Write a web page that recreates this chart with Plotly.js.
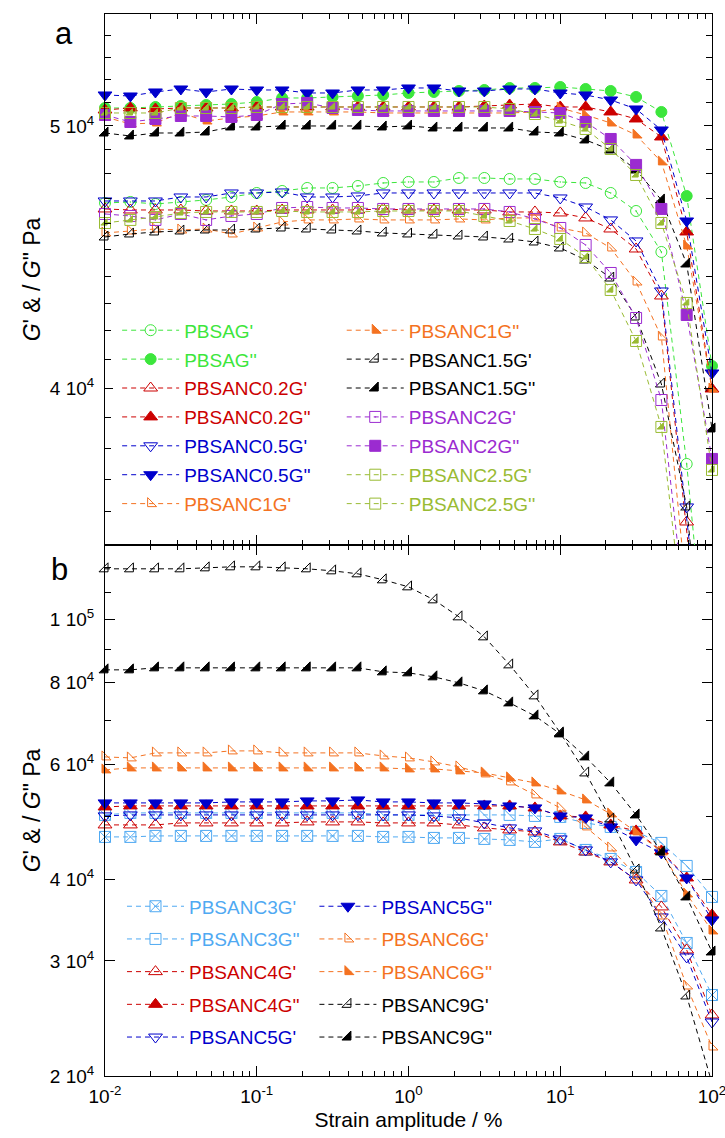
<!DOCTYPE html>
<html><head><meta charset="utf-8">
<script src="https://cdn.plot.ly/plotly-3.0.1.min.js"></script>
<style>body{margin:0;background:#fff}</style>
</head><body><div id="chart" style="width:725px;height:1138px"></div>
<script>
// Strain amplitude (%)
const strain = [0.01, 0.0147, 0.0215, 0.0316, 0.0464, 0.0681, 0.1, 0.147, 0.215, 0.316, 0.464, 0.681, 1, 1.47, 2.15, 3.16, 4.64, 6.81, 10, 14.7, 21.5, 31.6, 46.4, 68.1, 100];

// ---- Panel a (Pa) ----
const PBSAG_G1 = [46828, 46868, 46788, 46868, 46948, 47068, 47228, 47309, 47430, 47430, 47511, 47632, 47673, 47673, 47835, 47835, 47795, 47795, 47673, 47632, 47228, 46510, 44915, 37500, 30000];
const PBSAG_G2 = [50772, 50772, 50815, 50858, 50902, 50945, 51032, 51206, 51206, 51250, 51293, 51337, 51424, 51468, 51512, 51556, 51644, 51644, 51688, 51600, 51512, 51250, 50600, 47108, 40761];
const NC02_G1 = [46590, 46550, 46550, 46550, 46510, 46510, 46510, 46550, 46550, 46550, 46550, 46590, 46550, 46550, 46550, 46550, 46471, 46471, 46432, 46235, 45803, 45030, 43264, 35693, 29000];
const NC02_G2 = [50686, 50772, 50729, 50772, 50772, 50772, 50815, 50815, 50815, 50815, 50815, 50815, 50815, 50815, 50815, 50858, 50902, 50945, 50815, 50815, 50600, 50299, 49534, 45686, 39971];
const NC05_G1 = [46908, 46908, 46908, 47068, 47068, 47228, 47228, 47269, 47068, 47068, 47108, 47228, 47228, 47228, 47228, 47228, 47228, 47228, 47028, 46669, 46157, 45338, 43448, 36152, 29500];
const NC05_G2 = [51337, 51293, 51468, 51600, 51468, 51600, 51556, 51556, 51424, 51424, 51556, 51556, 51644, 51644, 51512, 51512, 51600, 51600, 51424, 51337, 51119, 50729, 49830, 46116, 40519];
const NC1_G1 = [45648, 45725, 45803, 45764, 45803, 45609, 45842, 46077, 46157, 46157, 46196, 46157, 46157, 46157, 46196, 46157, 46235, 46235, 45842, 45648, 45068, 43782, 41780, 34000, 27000];
const NC1_G2 = [50385, 50085, 50128, 50556, 50213, 50342, 50427, 50600, 50600, 50600, 50600, 50556, 50556, 50556, 50556, 50556, 50556, 50600, 50772, 50470, 50128, 49618, 48494, 45145, 39971];
const NC15_G1 = [45492, 45609, 45686, 45725, 45764, 45764, 45803, 45842, 45803, 45764, 45725, 45648, 45609, 45570, 45531, 45492, 45415, 45299, 45068, 44610, 43931, 42497, 40141, 36152, 29000];
const NC15_G2 = [49702, 49576, 49702, 49702, 49745, 49957, 49957, 50000, 50000, 50000, 50000, 49957, 50000, 49915, 49915, 49915, 49915, 49745, 49702, 49408, 48990, 48162, 46948, 44458, 38634];
const NC2_G1 = [46392, 46313, 46157, 46392, 46157, 46313, 46392, 46629, 46669, 46629, 46629, 46590, 46590, 46590, 46590, 46590, 46471, 46196, 45842, 45183, 44119, 42461, 39598, 32500, 27000];
const NC2_G2 = [50470, 50170, 50299, 50427, 50427, 50385, 50470, 50945, 50989, 50772, 50686, 50643, 50643, 50643, 50643, 50643, 50643, 50600, 50556, 50170, 49450, 48370, 46590, 42570, 37660];
const NC25_G1 = [46037, 46157, 46274, 46432, 46471, 46471, 46471, 46510, 46471, 46471, 46471, 46510, 46510, 46510, 46510, 46313, 46116, 45803, 45415, 44724, 43486, 41638, 38700, 32000, 26000];
const NC25_G2 = [50556, 50556, 50556, 50772, 50772, 50772, 50815, 50815, 50815, 50815, 50815, 50815, 50815, 50815, 50815, 50815, 50729, 50513, 50213, 49872, 49032, 47958, 46037, 43007, 37309];

// ---- Panel b (Pa) ----
const NC3_G1 = [46456, 46456, 46620, 46620, 46620, 46620, 46620, 46620, 46620, 46620, 46620, 46456, 46456, 46292, 46292, 46130, 45966, 45644, 46130, 44374, 42988, 41062, 37730, 31968, 26612];
const NC3_G2 = [50204, 50558, 50558, 50558, 50558, 50558, 50558, 50558, 50558, 50558, 50558, 50204, 50204, 50204, 50204, 50204, 50204, 50026, 49850, 48806, 48124, 47282, 45484, 41940, 37598];
const NC4_G1 = [48464, 48464, 48464, 48806, 48806, 48806, 48806, 48806, 48980, 48980, 48980, 48806, 48806, 48806, 48464, 47954, 47618, 47282, 45644, 44062, 42536, 39920, 36296, 31188, 24800];
const NC4_G2 = [51640, 51822, 51822, 51822, 51822, 51822, 51822, 51822, 51822, 51822, 51822, 51822, 51822, 51822, 51822, 51822, 51822, 51458, 50026, 49850, 48464, 47450, 44218, 40202, 35286];
const NC5_G1 = [50026, 50204, 50204, 50204, 50204, 50204, 50204, 50204, 50204, 50204, 50204, 50204, 50204, 50026, 49674, 48806, 47954, 47450, 46130, 44374, 42536, 39920, 35040, 30428, 24194];
const NC5_G2 = [52372, 52372, 52372, 52372, 52372, 52558, 52558, 52558, 52744, 52744, 52930, 52558, 52558, 52372, 52372, 52188, 51822, 51458, 50026, 49674, 48124, 45966, 43906, 40202, 34670];
const NC6_G1 = [61594, 61378, 62470, 62470, 62470, 62912, 62912, 62470, 62470, 62470, 62470, 61812, 61378, 60518, 59460, 58010, 56396, 53870, 51458, 48124, 44690, 40486, 35162, 27470, 22154];
const NC6_G2 = [58834, 59250, 59250, 59250, 59250, 59250, 59250, 59250, 59250, 59250, 59250, 59250, 59042, 59042, 58626, 58214, 57198, 56200, 54636, 52930, 50380, 47282, 44062, 37996, 33350];
const NC9_G1 = [119528, 119528, 119528, 119528, 119950, 120374, 120374, 119950, 119528, 118688, 117440, 114982, 112178, 107152, 100920, 94044, 85206, 76378, 67036, 58214, 49500, 41352, 33704, 26518, 19500];
const NC9_G2 = [83716, 83716, 84308, 84308, 84308, 84308, 84308, 84308, 84308, 84308, 84308, 83128, 82836, 81676, 79960, 77736, 74514, 71176, 66800, 61594, 56200, 50204, 44062, 37598, 30970];

// Tick labels
const xTickVals = [0.01, 0.1, 1, 10, 100];
const xTickText = ['10<sup>-2</sup>', '10<sup>-1</sup>', '10<sup>0</sup>', '10<sup>1</sup>', '10<sup>2</sup>'];
const yaTickVals = [40000, 50000];
const yaTickText = ['4 10<sup>4</sup>', '5 10<sup>4</sup>'];
const ybTickVals = [20000, 30000, 40000, 60000, 80000, 100000];
const ybTickText = ['2 10<sup>4</sup>', '3 10<sup>4</sup>', '4 10<sup>4</sup>', '6 10<sup>4</sup>', '8 10<sup>4</sup>', '1 10<sup>5</sup>'];

const xMinor = [];
[0.01, 0.1, 1, 10].forEach(d => { for (let m = 2; m <= 9; m++) xMinor.push(+(d * m).toPrecision(3)); });
const yaMinor = [];
for (let v = 35000; v <= 55000; v += 1000) if (v !== 40000 && v !== 50000) yaMinor.push(v);
const ybMinor = [50000, 70000, 90000, 110000, 120000, 130000];

const GREEN = '#3CE63C', RED = '#CC0000', BLUE = '#0000CC', ORANGE = '#F47221',
      BLACK = '#000000', PURPLE = '#9B2BD0', OLIVE = '#99BB33', LBLUE = '#4FA9F2';
const DASH = '5px,4px';

function tr(name, y, color, symbol, size, panel, legend) {
  return {
    type: 'scatter', mode: 'lines+markers', x: strain, y: y,
    name: '<span style="color:' + color + '">' + name + '</span>',
    xaxis: panel === 'a' ? 'x2' : 'x', yaxis: panel === 'a' ? 'y2' : 'y',
    legend: legend, legendgroup: name,
    line: {color: color, width: 1, dash: DASH},
    marker: {symbol: symbol, size: size, color: color, line: {color: color, width: 1}},
    cliponaxis: false, hoverinfo: 'skip'
  };
}
function ov(name, y, color, symbol, size, panel) {
  return {
    type: 'scatter', mode: 'markers', x: strain, y: y, showlegend: false, legendgroup: name,
    xaxis: panel === 'a' ? 'x2' : 'x', yaxis: panel === 'a' ? 'y2' : 'y',
    marker: {symbol: symbol, size: size, color: color, line: {color: color, width: 1}},
    cliponaxis: false, hoverinfo: 'skip'
  };
}

const data = [
  tr("PBSAG'", PBSAG_G1, GREEN, 'circle-open-dot', 11, 'a', 'legend'),
  tr("PBSAG''", PBSAG_G2, GREEN, 'circle', 11, 'a', 'legend'),
  tr("PBSANC0.2G'", NC02_G1, RED, 'triangle-up-open', 12, 'a', 'legend'),
  tr("PBSANC0.2G''", NC02_G2, RED, 'triangle-up', 12, 'a', 'legend'),
  tr("PBSANC0.5G'", NC05_G1, BLUE, 'triangle-down-open', 12, 'a', 'legend'),
  tr("PBSANC0.5G''", NC05_G2, BLUE, 'triangle-down', 12, 'a', 'legend'),
  tr("PBSANC1G'", NC1_G1, ORANGE, 'triangle-sw-open', 10, 'a', 'legend'),
  tr("PBSANC1G''", NC1_G2, ORANGE, 'triangle-sw', 10, 'a', 'legend2'),
  tr("PBSANC1.5G'", NC15_G1, BLACK, 'triangle-se-open', 10, 'a', 'legend2'),
  tr("PBSANC1.5G''", NC15_G2, BLACK, 'triangle-se', 10, 'a', 'legend2'),
  tr("PBSANC2G'", NC2_G1, PURPLE, 'square-open-dot', 11, 'a', 'legend2'),
  tr("PBSANC2G''", NC2_G2, PURPLE, 'square', 11, 'a', 'legend2'),
  tr("PBSANC2.5G'", NC25_G1, OLIVE, 'square-open', 11, 'a', 'legend2'),
  ov("PBSANC2.5G'", NC25_G1, OLIVE, 'triangle-se', 7, 'a'),
  tr("PBSANC2.5G''", NC25_G2, OLIVE, 'square-open', 11, 'a', 'legend2'),
  ov("PBSANC2.5G''", NC25_G2, OLIVE, 'triangle-se', 7, 'a'),

  tr("PBSANC3G'", NC3_G1, LBLUE, 'square-x-open', 11, 'b', 'legend3'),
  tr("PBSANC3G''", NC3_G2, LBLUE, 'square-open', 11, 'b', 'legend3'),
  ov("PBSANC3G''", NC3_G2, LBLUE, 'line-nw', 11, 'b'),
  tr("PBSANC4G'", NC4_G1, RED, 'triangle-up-open', 12, 'b', 'legend3'),
  tr("PBSANC4G''", NC4_G2, RED, 'triangle-up', 12, 'b', 'legend3'),
  tr("PBSANC5G'", NC5_G1, BLUE, 'triangle-down-open', 12, 'b', 'legend3'),
  tr("PBSANC5G''", NC5_G2, BLUE, 'triangle-down', 12, 'b', 'legend4'),
  tr("PBSANC6G'", NC6_G1, ORANGE, 'triangle-sw-open', 10, 'b', 'legend4'),
  tr("PBSANC6G''", NC6_G2, ORANGE, 'triangle-sw', 10, 'b', 'legend4'),
  tr("PBSANC9G'", NC9_G1, BLACK, 'triangle-se-open', 10, 'b', 'legend4'),
  tr("PBSANC9G''", NC9_G2, BLACK, 'triangle-se', 10, 'b', 'legend4')
];

const FONT = 'Liberation Sans, Arial, Helvetica, sans-serif';
function axis(extra) {
  return Object.assign({
    type: 'log', showline: true, linecolor: '#000', linewidth: 1, mirror: 'ticks',
    ticks: 'inside', tickwidth: 1, tickcolor: '#000', showgrid: false, zeroline: false,
    tickmode: 'array', tickfont: {family: FONT, size: 19, color: '#000'}, automargin: false,
    ticklabeloverflow: 'allow'
  }, extra);
}
const yTitle = {text: "<i>G</i>' & / <i>G</i>\" Pa", font: {family: FONT, size: 23, color: '#000'}, standoff: 2};
const legBase = {bgcolor: 'rgba(0,0,0,0)', font: {family: FONT, size: 19}, itemwidth: 57, xanchor: 'left', yanchor: 'top', borderwidth: 0};

const layout = {
  width: 725, height: 1138,
  margin: {l: 105, r: 13, t: 14, b: 62},
  paper_bgcolor: '#fff', plot_bgcolor: '#fff',
  font: {family: FONT, size: 19, color: '#000'},
  showlegend: true,
  xaxis: axis({anchor: 'y', range: [-2, 2], ticklen: 10, tickvals: xTickVals, ticktext: xTickText, ticklabelstandoff: 3,
    minor: {tickmode: 'array', tickvals: xMinor, ticks: 'inside', ticklen: 5, tickcolor: '#000', showgrid: false},
    title: {text: 'Strain amplitude / %', font: {family: FONT, size: 21, color: '#000'}, standoff: 6}}),
  yaxis: axis({anchor: 'x', domain: [0, 0.5], range: [Math.log10(20000), Math.log10(130000)], ticklen: 10,
    tickvals: ybTickVals, ticktext: ybTickText, ticklabelstandoff: 6,
    minor: {tickmode: 'array', tickvals: ybMinor, ticks: 'inside', ticklen: 6, tickcolor: '#000', showgrid: false},
    title: yTitle}),
  xaxis2: axis({anchor: 'y2', range: [-2, 2], ticklen: 10, tickvals: xTickVals, showticklabels: false,
    minor: {tickmode: 'array', tickvals: xMinor, ticks: 'inside', ticklen: 5, tickcolor: '#000', showgrid: false}}),
  yaxis2: axis({anchor: 'x2', domain: [0.5, 1], range: [Math.log10(35000), Math.log10(55000)], ticklen: 8,
    tickvals: yaTickVals, ticktext: yaTickText, ticklabelstandoff: 6,
    minor: {tickmode: 'array', tickvals: yaMinor, ticks: 'inside', ticklen: 6, tickcolor: '#000', showgrid: false},
    title: yTitle}),
  legend: Object.assign({}, legBase, {x: 0.02, y: 0.72, tracegroupgap: 1.2}),
  legend2: Object.assign({}, legBase, {x: 0.39, y: 0.72, tracegroupgap: 1.2}),
  legend3: Object.assign({}, legBase, {x: 0.028, y: 0.1776, tracegroupgap: 5}),
  legend4: Object.assign({}, legBase, {x: 0.345, y: 0.1776, tracegroupgap: 5}),
  annotations: [
    {text: 'a', xref: 'paper', yref: 'paper', x: -0.068, y: 0.982, xanchor: 'center', yanchor: 'middle', showarrow: false, font: {family: FONT, size: 31, color: '#000'}},
    {text: 'b', xref: 'paper', yref: 'paper', x: -0.075, y: 0.4765, xanchor: 'center', yanchor: 'middle', showarrow: false, font: {family: FONT, size: 31, color: '#000'}}
  ]
};

Plotly.newPlot('chart', data, layout, {staticPlot: true, displayModeBar: false});
</script>
</body></html>
